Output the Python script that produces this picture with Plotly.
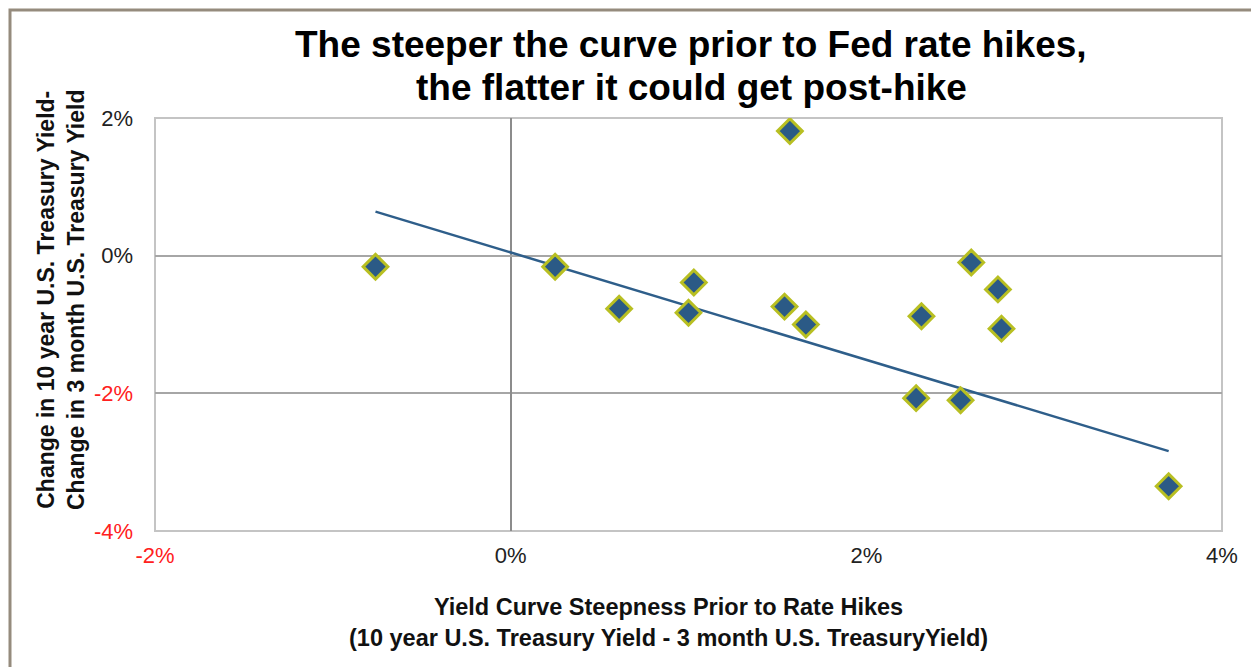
import plotly.graph_objects as go

# Yield curve steepness before hikes (x, %) vs. change in 10y-3m spread after (y, %)
steepness_pct = [-0.76, 0.25, 0.61, 1.00, 1.03, 1.54, 1.57, 1.66, 2.28, 2.31, 2.53, 2.59, 2.74, 2.76, 3.70]
spread_change_pct = [-0.16, -0.16, -0.77, -0.83, -0.39, -0.74, 1.81, -1.00, -2.07, -0.88, -2.10, -0.10, -0.49, -1.06, -3.35]

# Trend line end points (%)
trend_x = [-0.76, 3.70]
trend_y = [0.64, -2.84]

x_ticks = [-2, 0, 2, 4]
y_ticks = [-4, -2, 0, 2]

title_lines = ["The steeper the curve prior to Fed rate hikes,",
               "the flatter it could get post-hike"]
x_title = "Yield Curve Steepness Prior to Rate Hikes<br>(10 year U.S. Treasury Yield - 3 month U.S. TreasuryYield)"
y_title = "Change in 10 year U.S. Treasury Yield-<br>Change in 3 month U.S. Treasury Yield"


def pct_label(v):
    txt = f"{v}%"
    if v < 0:
        return f'<span style="color:#FF2020">{txt}</span>'
    return txt


FONT = "Liberation Sans, Arial, sans-serif"
L, R, T, B = 155, 29, 118, 136
PW, PH = 1251 - L - R, 667 - T - B


def px_x(p):
    return (p - L) / PW


def px_y(p):
    return (T + PH - p) / PH


fig = go.Figure()

fig.add_trace(go.Scatter(
    x=trend_x, y=trend_y, mode="lines",
    line=dict(color="#2E5E8A", width=2.5),
    hoverinfo="skip", showlegend=False,
))

fig.add_trace(go.Scatter(
    x=steepness_pct, y=spread_change_pct, mode="markers",
    marker=dict(symbol="diamond", size=19, color="#2B5A86",
                line=dict(color="#B8BF22", width=3)),
    showlegend=False,
))

fig.update_xaxes(
    range=[-2, 4], tickvals=x_ticks, ticktext=[pct_label(v) for v in x_ticks],
    showgrid=False, zeroline=True, zerolinecolor="#8C8C8C", zerolinewidth=1.5,
    showline=False, ticks="", tickfont=dict(family=FONT, size=22, color="#222222"),
    ticklabelstandoff=9,
)
fig.update_yaxes(
    range=[-4, 2], tickvals=y_ticks, ticktext=[pct_label(v) for v in y_ticks],
    showgrid=True, gridcolor="#A6A6A6", gridwidth=1.5,
    zeroline=True, zerolinecolor="#A6A6A6", zerolinewidth=1.5,
    showline=False, ticks="", tickfont=dict(family=FONT, size=22, color="#222222"),
    ticklabelstandoff=21,
)

# plot-area frame
fig.add_shape(type="rect", xref="paper", yref="paper", x0=0, y0=0, x1=1, y1=1,
              line=dict(color="#C4C4C4", width=2), layer="below")

# outer chart frame
fig.add_shape(type="rect", xref="paper", yref="paper",
              x0=px_x(10), x1=px_x(1262), y0=px_y(680), y1=px_y(10),
              line=dict(color="#958B7D", width=3))

for line_text, cy in zip(title_lines, [45, 88]):
    fig.add_annotation(
        text=f"<b>{line_text}</b>", xref="paper", yref="paper",
        x=px_x(691), y=px_y(cy), xanchor="center", yanchor="middle",
        showarrow=False, font=dict(family=FONT, size=37, color="#000000"),
    )

fig.add_annotation(
    text=f"<b>{x_title}</b>", xref="paper", yref="paper",
    x=px_x(668), y=px_y(622), xanchor="center", yanchor="middle",
    showarrow=False, font=dict(family=FONT, size=23.5, color="#111111"),
)

fig.add_annotation(
    text=f"<b>{y_title}</b>", xref="paper", yref="paper",
    x=px_x(61), y=px_y(300), xanchor="center", yanchor="middle",
    showarrow=False, textangle=-90,
    font=dict(family=FONT, size=23, color="#111111"),
)

fig.update_layout(
    width=1251, height=667,
    margin=dict(l=L, r=R, t=T, b=B),
    paper_bgcolor="white", plot_bgcolor="white",
    showlegend=False,
)

fig.write_html("out.html")
